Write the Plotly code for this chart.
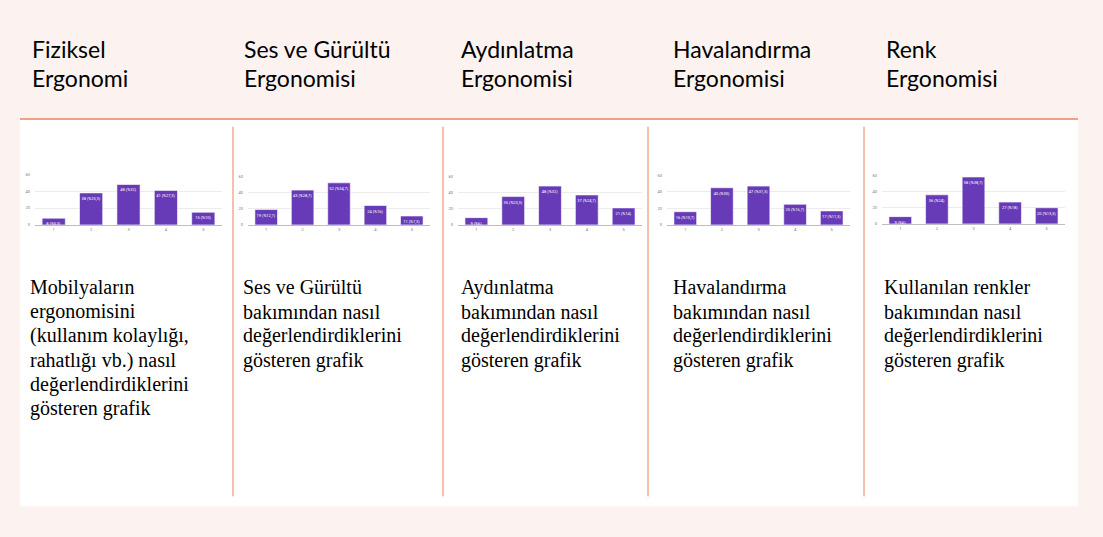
import plotly.graph_objects as go

W, H = 1103, 537

# Survey results: number of answers per rating (1-5) for each topic
ratings = ["1", "2", "3", "4", "5"]
fiziksel = [8, 38, 48, 41, 15]
ses = [19, 43, 52, 24, 11]
aydinlatma = [9, 35, 48, 37, 21]
havalandirma = [16, 45, 47, 25, 17]
renk = [9, 36, 58, 27, 20]

fiziksel_pct = ["5,3", "25,3", "32", "27,3", "10"]
ses_pct = ["12,7", "28,7", "34,7", "16", "7,3"]
aydinlatma_pct = ["6", "23,3", "32", "24,7", "14"]
havalandirma_pct = ["10,7", "30", "31,3", "16,7", "11,3"]
renk_pct = ["6", "24", "38,7", "18", "13,3"]

y_ticks = [0, 20, 40, 60]

headers = [
    ["Fiziksel", "Ergonomi"],
    ["Ses ve Gürültü", "Ergonomisi"],
    ["Aydınlatma", "Ergonomisi"],
    ["Havalandırma", "Ergonomisi"],
    ["Renk", "Ergonomisi"],
]

descriptions = [
    ["Mobilyaların", "ergonomisini", "(kullanım kolaylığı,", "rahatlığı vb.) nasıl",
     "değerlendirdiklerini", "gösteren grafik"],
    ["Ses ve Gürültü", "bakımından nasıl", "değerlendirdiklerini", "gösteren grafik"],
    ["Aydınlatma", "bakımından nasıl", "değerlendirdiklerini", "gösteren grafik"],
    ["Havalandırma", "bakımından nasıl", "değerlendirdiklerini", "gösteren grafik"],
    ["Kullanılan renkler", "bakımından nasıl", "değerlendirdiklerini", "gösteren grafik"],
]

series = [
    (fiziksel, fiziksel_pct),
    (ses, ses_pct),
    (aydinlatma, aydinlatma_pct),
    (havalandirma, havalandirma_pct),
    (renk, renk_pct),
]

# pixel boxes of the small charts: (left, right, top, bottom)
boxes = [
    (35, 222, 173, 224),
    (248, 430, 175, 224),
    (458, 642, 175, 224),
    (667, 850, 174, 224),
    (882, 1065, 174, 223),
]
header_x = [30, 242, 459, 671, 884]
desc_x = [28, 241, 459, 671, 882]
separators = [233, 443, 648, 864]

PURPLE = "#673AB7"


def px(x):
    return x / W


def py(y):
    return 1 - y / H


fig = go.Figure()

for i, ((vals, pcts), (l, r, t, b)) in enumerate(zip(series, boxes)):
    n = "" if i == 0 else str(i + 1)
    labels = [f"{v} (%{p})" for v, p in zip(vals, pcts)]
    fig.add_trace(go.Bar(
        x=ratings, y=vals, text=labels,
        textposition="inside", insidetextanchor="end", textangle=0,
        constraintext="none",
        textfont=dict(size=4, color="white", family="Roboto"),
        marker=dict(color=PURPLE, line=dict(color="white", width=0.6)),
        xaxis="x" + n, yaxis="y" + n, showlegend=False,
        hoverinfo="x+y",
    ))
    fig.update_layout({
        "xaxis" + n: dict(
            domain=[px(l), px(r)], anchor="y" + n,
            showgrid=False, showline=True, linecolor="#bdbdbd", linewidth=1,
            tickfont=dict(size=4, color="#777", family="Roboto"),
            ticks="", fixedrange=True,
        ),
        "yaxis" + n: dict(
            domain=[py(b), py(t)], anchor="x" + n, range=[0, 60],
            tickvals=y_ticks, showgrid=True, gridcolor="#ececec", gridwidth=1,
            zeroline=False, showline=False,
            tickfont=dict(size=4, color="#777", family="Roboto"),
            ticks="", ticklabelstandoff=4, fixedrange=True,
        ),
    })

shapes = [
    # white content panel
    dict(type="rect", xref="paper", yref="paper", x0=px(20), x1=px(1078),
         y0=py(508), y1=py(118), fillcolor="white", line=dict(width=0), layer="below"),
    # salmon rule under the headers
    dict(type="line", xref="paper", yref="paper", x0=px(20), x1=px(1078),
         y0=py(117), y1=py(117), line=dict(color="#F2A089", width=2)),
]
for sx in separators:
    shapes.append(dict(type="line", xref="paper", yref="paper", x0=px(sx), x1=px(sx),
                       y0=py(125), y1=py(498), line=dict(color="#E9825F", width=1)))

annotations = []
for hx, lines in zip(header_x, headers):
    for k, line in enumerate(lines):
        annotations.append(dict(
            text=line, x=px(hx), y=py(46 + 30 * k), xref="paper", yref="paper",
            xanchor="left", yanchor="middle", showarrow=False,
            font=dict(family="Lato", size=23, color="#000"),
        ))
for dx, lines in zip(desc_x, descriptions):
    for k, line in enumerate(lines):
        annotations.append(dict(
            text=line, x=px(dx), y=py(287 + 24.5 * k), xref="paper", yref="paper",
            xanchor="left", yanchor="middle", showarrow=False,
            font=dict(family="Liberation Serif", size=20, color="#000"),
        ))

fig.update_layout(
    width=W, height=H,
    margin=dict(l=0, r=0, t=0, b=0),
    paper_bgcolor="#FCF2EF", plot_bgcolor="rgba(0,0,0,0)",
    bargap=0.38,
    shapes=shapes, annotations=annotations,
)

fig.write_html("out.html", config={"displayModeBar": False})
